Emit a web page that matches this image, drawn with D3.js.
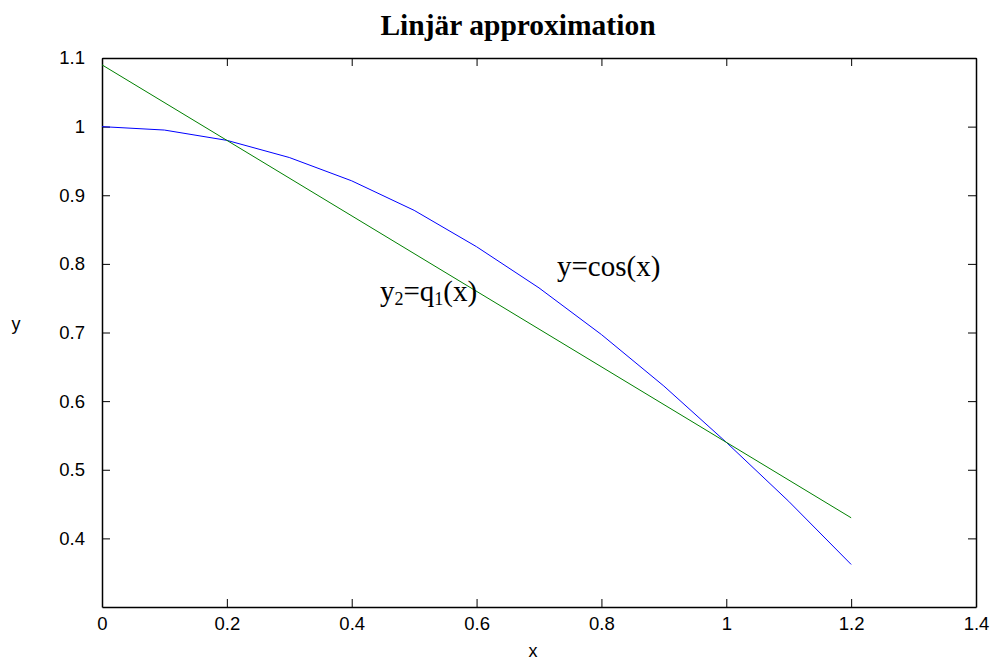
<!DOCTYPE html>
<html>
<head>
<meta charset="utf-8">
<script src="https://cdn.jsdelivr.net/npm/d3@7"></script>
<style>
  body { margin: 0; background: #fff; }
  svg { display: block; }
</style>
</head>
<body>
<svg id="chart" width="991" height="661"></svg>
<script>
// data
const xValues = [0, 0.1, 0.2, 0.3, 0.4, 0.5, 0.6, 0.7, 0.8, 0.9, 1.0, 1.1, 1.2];
const cosValues = [1.0, 0.995, 0.980, 0.955, 0.921, 0.878, 0.825, 0.765, 0.697, 0.622, 0.540, 0.454, 0.362];
const lineX = [0, 1.2];
const lineY = [1.09, 0.43];
const xTicks = [0, 0.2, 0.4, 0.6, 0.8, 1, 1.2, 1.4];
const yTicks = [0.4, 0.5, 0.6, 0.7, 0.8, 0.9, 1, 1.1];

const width = 991, height = 661;
const margin = {left: 102, right: 15, top: 58, bottom: 54};

const svg = d3.select("#chart");

let x = d3.scaleLinear().domain([0, 1.4]).range([margin.left, width - margin.right]);
let y = d3.scaleLinear().domain([0.3, 1.1]).range([height - margin.bottom, margin.top]);

const tickLen = 8;
const tickFont = 18.5;
const fmt = d => String(+d.toFixed(1));

// axes, ticks pointing inward, mirrored on top and right
svg.append("g")
   .attr("transform", `translate(0,${y(0.3)})`)
   .call(d3.axisBottom(x).tickValues(xTicks).tickSizeInner(-tickLen).tickSizeOuter(0).tickPadding(10).tickFormat(fmt))
   .call(g => g.selectAll("text").attr("font-size", tickFont));
svg.append("g")
   .attr("transform", `translate(0,${y(1.1)})`)
   .call(d3.axisTop(x).tickValues(xTicks).tickSizeInner(-tickLen).tickSizeOuter(0).tickFormat(""));
svg.append("g")
   .attr("transform", `translate(${x(0)},0)`)
   .call(d3.axisLeft(y).tickValues(yTicks).tickSizeInner(-tickLen).tickSizeOuter(0).tickPadding(17).tickFormat(fmt))
   .call(g => g.selectAll("text").attr("font-size", tickFont));
svg.append("g")
   .attr("transform", `translate(${x(1.4)},0)`)
   .call(d3.axisRight(y).tickValues(yTicks).tickSizeInner(-tickLen).tickSizeOuter(0).tickFormat(""));

svg.selectAll(".domain").attr("stroke", "#000").attr("stroke-width", 1.5);
svg.selectAll(".tick line").attr("stroke", "#000");
svg.selectAll(".tick text").attr("font-family", "Liberation Sans, Arial, sans-serif").attr("fill", "#000");

// curves
const line = d3.line().x(d => x(d[0])).y(d => y(d[1]));
svg.append("path")
   .datum(xValues.map((v, i) => [v, cosValues[i]]))
   .attr("d", line)
   .attr("fill", "none")
   .attr("stroke", "#0000ff")
   .attr("stroke-width", 1);
svg.append("path")
   .datum(lineX.map((v, i) => [v, lineY[i]]))
   .attr("d", line)
   .attr("fill", "none")
   .attr("stroke", "#008000")
   .attr("stroke-width", 1);

// title and labels
svg.append("text")
   .attr("x", 518).attr("y", 35)
   .attr("text-anchor", "middle")
   .attr("font-family", "Liberation Serif, Times New Roman, serif")
   .attr("font-weight", "bold")
   .attr("font-size", 29.5)
   .text("Linjär approximation");

svg.append("text")
   .attr("x", 533).attr("y", 657)
   .attr("text-anchor", "middle")
   .attr("font-family", "Liberation Sans, Arial, sans-serif")
   .attr("font-size", 18)
   .text("x");
svg.append("text")
   .attr("x", 16).attr("y", 330)
   .attr("text-anchor", "middle")
   .attr("font-family", "Liberation Sans, Arial, sans-serif")
   .attr("font-size", 18)
   .text("y");

// annotations
const serif = "Liberation Serif, Times New Roman, serif";
svg.append("text")
   .attr("x", 557).attr("y", 276)
   .attr("font-family", serif)
   .attr("font-size", 29)
   .text("y=cos(x)");

const q = svg.append("text")
   .attr("x", 380).attr("y", 301)
   .attr("font-family", serif)
   .attr("font-size", 29);
q.append("tspan").text("y");
q.append("tspan").attr("font-size", 18).attr("dy", 4).text("2");
q.append("tspan").attr("dy", -4).text("=q");
q.append("tspan").attr("font-size", 18).attr("dy", 4).text("1");
q.append("tspan").attr("dy", -4).text("(x)");
</script>
</body>
</html>
